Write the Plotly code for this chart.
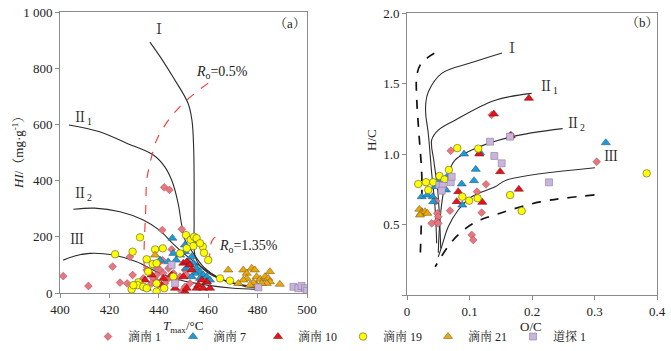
import plotly.graph_objects as go

SERIF = "Liberation Serif, Times New Roman, Noto Serif CJK SC, Noto Sans CJK SC, serif"

# ---------------- Data: panel (a) Tmax vs HI ----------------
dn1_T = [401.3, 411.5, 421.3, 424.3, 427.2, 428.3, 429.4, 442.2, 444.3, 441.4, 449.3, 445.2,
         435.1, 436.4, 437.8, 439.1, 440.5, 441.8, 443.2, 444.5, 445.9, 443.9, 439.1, 437.1,
         442.5, 446.6, 448.6, 450.6, 449.3, 450.6, 452.6, 451.3, 439.8, 438.5, 433.7, 441.4]
dn1_HI = [60, 25, 94, 37, 34, 129, 64, 376, 367, 224, 227, 155,
          82, 70, 52, 64, 82, 70, 46, 58, 70, 88, 40, 34,
          34, 46, 58, 82, 5, 22, 34, 64, 106, 94, 52, 117]

dn7_T = [445.5, 448.6, 450.6, 453.3, 451.9, 454.0, 455.3, 456.7, 458.0, 459.4, 454.7, 453.3,
         451.3, 456.7, 459.4, 445.9, 440.5, 460.7, 450.6, 455.3, 443.8, 447.0]
dn7_HI = [195, 135, 147, 129, 111, 106, 88, 76, 64, 58, 70, 58,
          88, 52, 40, 141, 117, 46, 171, 177, 111, 117]

dn10_T = [434.4, 435.1, 437.1, 441.8, 446.6, 449.9, 451.3, 452.6, 449.9, 450.6, 451.3, 455.3,
          456.0, 458.0, 459.4, 460.7, 457.4, 453.3, 445.2, 441.1]
dn10_HI = [46, 17, 64, 52, 17, 106, 111, 100, 58, 5, 17, 17,
           28, 17, 40, 17, 46, 82, 64, 28]

dn19_T = [422.3, 429.4, 432.4, 438.5, 441.6, 435.1, 437.5, 439.1, 435.7, 431.7, 431.4, 429.0,
          433.7, 435.1, 439.1, 442.2, 439.1, 445.9, 448.6, 451.0, 452.9, 454.3, 455.3, 457.8,
          458.3, 460.0, 454.0, 451.3, 464.8, 468.8, 456.7, 429.7]
dn19_HI = [138, 147, 198, 155, 159, 120, 103, 106, 76, 38, 28, 13,
           22, 17, 34, 17, 5, 58, 141, 206, 189, 200, 195, 165,
           143, 117, 167, 159, 52, 44, 177, 28]

dn21_T = [468.1, 474.2, 475.6, 477.6, 478.9, 479.6, 481.0, 483.0, 484.3, 485.0, 483.7, 481.6,
          479.6, 478.3, 475.6, 474.2, 472.2, 489.0, 476.9, 485.0, 438.5]
dn21_HI = [82, 82, 70, 88, 82, 58, 49, 58, 52, 40, 34, 34,
           28, 37, 52, 46, 34, 31, 28, 76, 135]

dt1_T = [445.2, 446.6, 480.3, 494.5, 496.5, 497.8, 499.2, 499.9]
dt1_HI = [100, 34, 20, 22, 17, 25, 17, 8]

# type curves (a)
cI_T = [436.4, 441, 446, 451.8, 453.4, 454.1, 454.3, 454.3, 454.6, 456.5, 461, 469, 480]
cI_HI = [893, 835, 765, 676, 616, 520, 400, 250, 135, 98, 66, 38, 21]
cII1_T = [403.6, 416, 427, 437.8, 442.5, 445.5, 447.8, 449.3, 450.6, 454, 458, 463.4, 470.2, 478.3]
cII1_HI = [598, 574, 533, 491, 448, 395, 320, 240, 189, 141, 94, 58, 34, 22]
cII2_T = [405.4, 414, 424.3, 433.7, 440.5, 445.9, 451.3, 458, 464.8, 472.9, 479.6]
cII2_HI = [298, 302, 289, 260, 222, 174, 132, 88, 52, 28, 18]
cIII_T = [401.3, 406, 412.1, 421.6, 431, 439.1, 448.6, 459.4, 470.2, 479.6]
cIII_HI = [117, 132, 141, 135, 111, 76, 46, 28, 17, 13]
ro05_T = [460, 451.4, 444.5, 439.1, 437.1, 436, 435.1, 434.7, 434.1, 433.7, 432.4]
ro05_HI = [747, 687, 622, 544, 485, 444, 402, 295, 177, 58, 28]
ro135_T = [462.8, 461.5, 460.8, 460.6, 460.8]
ro135_HI = [200, 185, 160, 120, 82]

# ---------------- Data: panel (b) O/C vs H/C ----------------
dn1_OC = [0.070, 0.1355, 0.3035, 0.1264, 0.0464, 0.0485, 0.050, 0.0475, 0.0395, 0.050,
          0.0688, 0.1195, 0.112, 0.1035, 0.106, 0.166]
dn1_HC = [1.023, 1.277, 0.945, 0.785, 0.667, 0.579, 0.555, 0.52, 0.508, 0.508,
          0.598, 0.584, 0.733, 0.426, 0.39, 1.135]

dn7_OC = [0.0912, 0.1168, 0.318, 0.0235, 0.0325, 0.041, 0.042, 0.0448, 0.050, 0.0624,
          0.0645, 0.0875, 0.0885, 0.1072, 0.110]
dn7_HC = [1.0, 1.01, 1.08, 0.697, 0.709, 0.697, 0.662, 0.768, 0.816, 0.745,
          0.839, 0.787, 0.638, 0.811, 0.891]

dn10_OC = [0.195, 0.139, 0.1157, 0.082, 0.0795, 0.149, 0.179, 0.1205, 0.166]
dn10_HC = [1.395, 1.284, 1.0, 0.733, 0.662, 0.875, 0.75, 0.657, 1.128]

dn19_OC = [0.018, 0.0304, 0.034, 0.042, 0.052, 0.060, 0.067, 0.0805, 0.114, 0.0885,
           0.0995, 0.113, 0.165, 0.1835, 0.3835]
dn19_HC = [0.787, 0.80, 0.745, 0.80, 0.844, 0.82, 0.887, 1.042, 1.038, 0.697,
           0.669, 0.686, 0.709, 0.596, 0.863]

dn21_OC = [0.0197, 0.0224, 0.0288, 0.0325, 0.0208]
dn21_HC = [0.608, 0.579, 0.591, 0.579, 0.567]

dt1_OC = [0.0517, 0.0571, 0.0555, 0.070, 0.0715, 0.1328, 0.1397, 0.1515, 0.1648, 0.2272]
dt1_HC = [0.78, 0.775, 0.74, 0.80, 0.839, 1.087, 0.986, 0.934, 1.123, 0.799]

# type curves (b)
vI_OC = [0.152, 0.105, 0.0555, 0.034, 0.030, 0.030, 0.034, 0.0395, 0.0448, 0.0475]
vI_HC = [1.716, 1.65, 1.572, 1.44, 1.36, 1.28, 1.147, 0.863, 0.626, 0.366]
vII1_OC = [0.1995, 0.14, 0.0768, 0.050, 0.0395, 0.043, 0.049, 0.052, 0.054]
vII1_HC = [1.43, 1.38, 1.24, 1.17, 1.10, 0.95, 0.75, 0.55, 0.33]
vII2_OC = [0.249, 0.165, 0.1035, 0.0768, 0.066, 0.058, 0.0528, 0.050]
vII2_HC = [1.18, 1.12, 1.028, 0.957, 0.863, 0.72, 0.532, 0.30]
vIII_OC = [0.3008, 0.1595, 0.141, 0.1035, 0.082, 0.066, 0.0555, 0.050]
vIII_HC = [0.903, 0.816, 0.768, 0.697, 0.603, 0.484, 0.343, 0.27]
dU_OC = [0.0437, 0.032, 0.021, 0.0155, 0.0155, 0.019, 0.0235, 0.0235, 0.021]
dU_HC = [1.714, 1.68, 1.63, 1.55, 1.40, 1.15, 0.865, 0.626, 0.25]
dL_OC = [0.30, 0.213, 0.149, 0.106, 0.074, 0.045]
dL_HC = [0.71, 0.66, 0.58, 0.508, 0.39, 0.20]

series_names = ["滴南 1", "滴南 7", "滴南 10", "滴南 19", "滴南 21", "道探 1"]

styles = [
    dict(symbol="diamond", size=6, color="#e8767f", line=dict(color="#9c4a55", width=0.5)),
    dict(symbol="triangle-up", size=8, color="#1b9bd7", line=dict(color="#2a4a60", width=0.5)),
    dict(symbol="triangle-up", size=8, color="#e5121b", line=dict(color="#6a1010", width=0.5)),
    dict(symbol="circle", size=7.5, color="#ffff00", line=dict(color="#555533", width=0.6)),
    dict(symbol="triangle-up", size=8, color="#e9a710", line=dict(color="#6a5010", width=0.5)),
    dict(symbol="square", size=7, color="#c9b4de", line=dict(color="#7c6f8c", width=0.5)),
]

left_data = [(dn1_T, dn1_HI), (dn7_T, dn7_HI), (dn10_T, dn10_HI),
             (dn19_T, dn19_HI), (dn21_T, dn21_HI), (dt1_T, dt1_HI)]
right_data = [(dn1_OC, dn1_HC), (dn7_OC, dn7_HC), (dn10_OC, dn10_HC),
              (dn19_OC, dn19_HC), (dn21_OC, dn21_HC), (dt1_OC, dt1_HC)]

fig = go.Figure()

LINE = dict(color="#2b2b2b", width=1.1, shape="spline")

for xs, ys in [(cI_T, cI_HI), (cII1_T, cII1_HI), (cII2_T, cII2_HI), (cIII_T, cIII_HI)]:
    fig.add_trace(go.Scatter(x=xs, y=ys, mode="lines", line=LINE, showlegend=False,
                             hoverinfo="skip", xaxis="x", yaxis="y"))
for xs, ys in [(ro05_T, ro05_HI), (ro135_T, ro135_HI)]:
    fig.add_trace(go.Scatter(x=xs, y=ys, mode="lines",
                             line=dict(color="#ff3030", width=1.1, dash="dash", shape="spline"),
                             showlegend=False, hoverinfo="skip", xaxis="x", yaxis="y"))

for xs, ys in [(vI_OC, vI_HC), (vII1_OC, vII1_HC), (vII2_OC, vII2_HC), (vIII_OC, vIII_HC)]:
    fig.add_trace(go.Scatter(x=xs, y=ys, mode="lines", line=LINE, showlegend=False,
                             hoverinfo="skip", xaxis="x2", yaxis="y2"))
for xs, ys in [(dU_OC, dU_HC), (dL_OC, dL_HC)]:
    fig.add_trace(go.Scatter(x=xs, y=ys, mode="lines",
                             line=dict(color="#111111", width=1.7, dash="dash", shape="spline"),
                             showlegend=False, hoverinfo="skip", xaxis="x2", yaxis="y2"))

for i, name in enumerate(series_names):
    st = styles[i]
    mk = dict(symbol=st["symbol"], size=st["size"], color=st["color"], line=st["line"])
    fig.add_trace(go.Scatter(x=left_data[i][0], y=left_data[i][1], mode="markers", marker=mk,
                             name=name, legendgroup=name, showlegend=True, xaxis="x", yaxis="y"))
    fig.add_trace(go.Scatter(x=right_data[i][0], y=right_data[i][1], mode="markers", marker=mk,
                             name=name, legendgroup=name, showlegend=False, xaxis="x2", yaxis="y2"))

axis_common = dict(showgrid=False, zeroline=False, showline=True, mirror=True,
                   linecolor="#8a8a8a", linewidth=1, ticks="outside", ticklen=4,
                   tickcolor="#8a8a8a", tickfont=dict(family=SERIF, size=13, color="#222"),
                   automargin=False)

fig.update_layout(
    width=671, height=351,
    margin=dict(l=0, r=0, t=0, b=0, autoexpand=False),
    paper_bgcolor="white", plot_bgcolor="white",
    font=dict(family=SERIF, size=13, color="#222"),
    xaxis=dict(domain=[60/671, 307/671], range=[400, 500], tickvals=[400, 420, 440, 460, 480, 500],
               anchor="y", **axis_common),
    yaxis=dict(domain=[1-293/351, 1-12/351], range=[0, 1000],
               tickvals=[0, 200, 400, 600, 800, 1000],
               ticktext=["0", "200", "400", "600", "800", "1 000"], anchor="x", **axis_common),
    xaxis2=dict(domain=[407/671, 657/671], range=[0, 0.4], tickvals=[0, 0.1, 0.2, 0.3, 0.4],
                ticktext=["0", "0.1", "0.2", "0.3", "0.4"], anchor="y2", **axis_common),
    yaxis2=dict(domain=[1-295/351, 1-13/351], range=[0, 2.0], tickvals=[0, 0.5, 1.0, 1.5, 2.0],
                ticktext=["", "0.5", "1.0", "1.5", "2.0"], anchor="x2", **axis_common),
    legend=dict(orientation="h", x=88/671, xanchor="left", y=0.0, yanchor="bottom",
                font=dict(family=SERIF, size=12, color="#222"),
                itemwidth=30, entrywidth=40, entrywidthmode="pixels",
                bgcolor="rgba(0,0,0,0)", tracegroupgap=0),
    showlegend=True,
)

ann = []
def A(text, x, y, xref, yref, size=13, **kw):
    ann.append(dict(text=text, x=x, y=y, xref=xref, yref=yref, showarrow=False,
                    xanchor="center", yanchor="middle",
                    font=dict(family=SERIF, size=size, color="#222"), **kw))

A("Ⅰ", 440, 936, "x", "y", 14)
A("Ⅱ<sub>1</sub>", 409, 622, "x", "y", 14)
A("Ⅱ<sub>2</sub>", 409, 349, "x", "y", 14)
A("Ⅲ", 407, 189, "x", "y", 14)
A("<i>R</i><sub>o</sub>=0.5%", 465.6, 783, "x", "y", 14)
A("<i>R</i><sub>o</sub>=1.35%", 476.3, 167, "x", "y", 14)
A("（a）", 493, 960, "x", "y", 13)
A("Ⅰ", 0.168, 1.75, "x2", "y2", 14)
A("Ⅱ<sub>1</sub>", 0.226, 1.475, "x2", "y2", 14)
A("Ⅱ<sub>2</sub>", 0.269, 1.206, "x2", "y2", 14)
A("Ⅲ", 0.327, 0.98, "x2", "y2", 14)
A("（b）", 0.376, 1.93, "x2", "y2", 13)
A("<i>T</i><sub>max</sub>/°C", 183/671, 1-326/351, "paper", "paper", 13)
A("O/C", 531/671, 1-326/351, "paper", "paper", 13)
A("<i>HI</i>/（mg·g<sup>-1</sup>）", 18/671, 1-150/351, "paper", "paper", 13, textangle=-90)
A("H/C", 371/671, 1-140/351, "paper", "paper", 13, textangle=-90)

fig.update_layout(annotations=ann)

fig.write_html("out.html")
